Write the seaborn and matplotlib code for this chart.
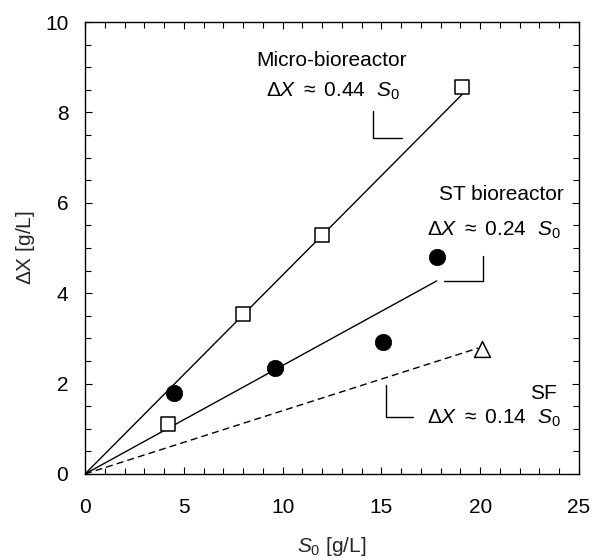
import matplotlib
matplotlib.use("Agg")
import matplotlib.pyplot as plt
from matplotlib.ticker import MultipleLocator
import numpy as np
import pandas as pd
import seaborn as sns

# Measured biomass gain vs. initial substrate
micro_s0 = [4.18, 8.0, 12.0, 19.08]
micro_dx = [1.11, 3.55, 5.28, 8.57]
st_s0 = [4.48, 9.64, 15.06, 17.8]
st_dx = [1.80, 2.34, 2.92, 4.80]
sf_s0 = [20.1]
sf_dx = [2.77]

# Yield fits  dX = k * S0
fit_names = ["Micro-bioreactor", "ST bioreactor", "SF"]
fit_slopes = [0.44, 0.24, 0.14]
fit_xmax = [19.1, 17.8, 19.9]

sns.set_style("ticks")
plt.rcParams["font.family"] = ["Liberation Sans", "DejaVu Sans"]
plt.rcParams["mathtext.fontset"] = "custom"
plt.rcParams["mathtext.rm"] = "Liberation Sans"
plt.rcParams["mathtext.it"] = "Liberation Sans:italic"
plt.rcParams["mathtext.bf"] = "Liberation Sans:bold"

FS = 15

fig = plt.figure(figsize=(6.01, 5.60), dpi=100)
ax = fig.add_axes([0.1414, 0.1536, 0.9634 - 0.1414, 0.9607 - 0.1536])

# fitted lines through the origin
styles = ["-", "-", (0, (5, 3))]
for name, k, xm, ls in zip(fit_names, fit_slopes, fit_xmax, styles):
    xs = np.array([0.0, xm])
    df = pd.DataFrame({"S0": xs, "dX": k * xs})
    sns.lineplot(data=df, x="S0", y="dX", ax=ax, color="black",
                 linewidth=1.0, linestyle=ls, legend=False)

# data points
sns.scatterplot(x=micro_s0, y=micro_dx, ax=ax, marker="s", s=110,
                facecolor="white", edgecolor="black", linewidth=1.1, zorder=3)
sns.scatterplot(x=st_s0, y=st_dx, ax=ax, marker="o", s=140,
                color="black", edgecolor="black", linewidth=0.5, zorder=3)
sns.scatterplot(x=sf_s0, y=sf_dx, ax=ax, marker="^", s=130,
                facecolor="white", edgecolor="black", linewidth=1.1, zorder=3)

ax.set_xlim(0, 25)
ax.set_ylim(0, 10)
ax.xaxis.set_major_locator(MultipleLocator(5))
ax.xaxis.set_minor_locator(MultipleLocator(1))
ax.yaxis.set_major_locator(MultipleLocator(2))
ax.yaxis.set_minor_locator(MultipleLocator(0.5))
ax.tick_params(which="both", direction="in", top=True, right=True,
               labelsize=FS, colors="black", width=0.8)
ax.tick_params(which="major", length=5)
ax.tick_params(which="minor", length=4)
ax.tick_params(axis="y", which="major", pad=12)
ax.tick_params(axis="x", which="major", pad=17)
for sp in ax.spines.values():
    sp.set_visible(True)
    sp.set_linewidth(1.0)
    sp.set_color("black")

ax.set_xlabel(r"$S_{\mathit{0}}$ [g/L]", fontsize=FS, labelpad=13)
ax.set_ylabel(r"$\Delta$X [g/L]", fontsize=FS, labelpad=6)

txt = dict(fontsize=FS, color="black")
eq = r"$\Delta X\ \approx\ %.2f\ \ S_{\mathit{0}}$"

# Micro-bioreactor annotation
ax.text(12.45, 9.14, "Micro-bioreactor", ha="center", va="center", **txt)
ax.text(15.9, 8.47, eq % fit_slopes[0], ha="right", va="center", **txt)
ax.plot([14.58, 14.58, 16.04], [8.03, 7.44, 7.44], color="black", lw=1.0)

# ST bioreactor annotation
ax.text(24.25, 6.19, "ST bioreactor", ha="right", va="center", **txt)
ax.text(24.05, 5.38, eq % fit_slopes[1], ha="right", va="center", **txt)
ax.plot([20.14, 20.14, 18.16], [4.82, 4.27, 4.27], color="black", lw=1.0)

# SF annotation
ax.text(23.2, 1.77, "SF", ha="center", va="center", **txt)
ax.text(24.05, 1.22, eq % fit_slopes[2], ha="right", va="center", **txt)
ax.plot([15.23, 15.23, 16.6], [1.96, 1.26, 1.26], color="black", lw=1.0)

fig.savefig("out.png", dpi=100)
